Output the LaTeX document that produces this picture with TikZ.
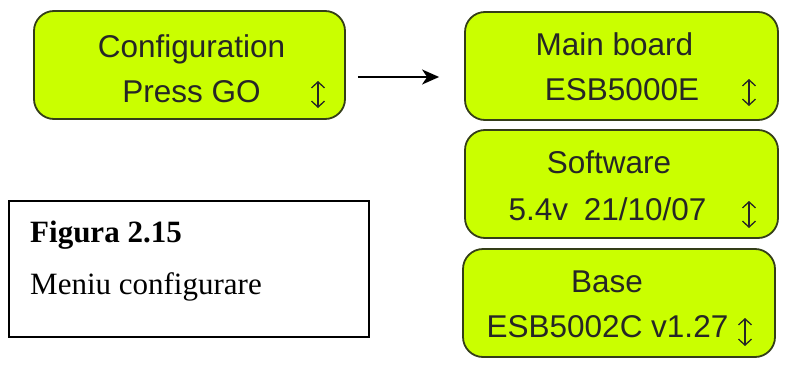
\documentclass[tikz,border=0pt]{standalone}
\usepackage{fontspec}
\setmainfont{Liberation Serif}
\newfontfamily\arialfont{Liberation Sans}
\usetikzlibrary{arrows.meta}
\definecolor{lcdgreen}{RGB}{202,255,0}
\definecolor{lcdedge}{RGB}{52,62,24}
\begin{document}
\begin{tikzpicture}[x=1pt,y=-1pt,
  gbox/.style={draw=lcdedge, line width=1.8pt, fill=lcdgreen, rounded corners=20pt, inner sep=0pt},
  lcdtext/.style={font=\arialfont\fontsize{31.5}{37}\selectfont, text=black!85, anchor=base, inner sep=0pt},
  updown/.style={draw=black!85, line width=1.3pt, {Straight Barb[length=6pt,width=13pt]}-{Straight Barb[length=6pt,width=13pt]}},
  flow/.style={draw=black, line width=1.6pt, -{Stealth[length=17pt,width=15pt,inset=5pt]}},
  capbox/.style={draw=black, line width=1.4pt, fill=white, inner sep=0pt},
  captext/.style={font=\fontsize{31}{37}\selectfont, anchor=base west, inner sep=0pt}
]
\useasboundingbox (0,0) rectangle (803,383);
% boxes
\node[gbox, minimum width=311pt, minimum height=108pt] (cfg) at (189.5,65) {};
\node[gbox, minimum width=313pt, minimum height=108pt] (mb) at (621.5,66) {};
\node[gbox, minimum width=313pt, minimum height=108pt] (sw) at (621.5,184) {};
\node[gbox, minimum width=312pt, minimum height=108pt] (bs) at (619,303) {};
% texts
\node[lcdtext] (t1) at (191.5,57) {Configuration};
\node[lcdtext] (t2) at (191.5,102) {Press GO};
\node[lcdtext] (t3) at (614.5,55) {Main board};
\node[lcdtext] (t4) at (622,100) {ESB5000E};
\node[lcdtext] (t5) at (609,173) {Software};
\node[lcdtext] (t6) at (607.5,220) {5.4v\hspace{0.5em}21/10/07};
\node[lcdtext] (t7) at (607,292) {Base};
\node[lcdtext] (t8) at (607.5,337) {ESB5002C v1.27};
% up-down symbols
\coordinate (u1a) at (318,81); \coordinate (u1b) at (318,108);
\coordinate (u2a) at (749,79); \coordinate (u2b) at (749,106);
\coordinate (u3a) at (749,201); \coordinate (u3b) at (749,228);
\coordinate (u4a) at (745,318); \coordinate (u4b) at (745,346);
\draw[updown] (u1a) -- (u1b);
\draw[updown] (u2a) -- (u2b);
\draw[updown] (u3a) -- (u3b);
\draw[updown] (u4a) -- (u4b);
% connector
\draw[flow] ([xshift=12pt,yshift=-12pt]cfg.east) -- ([xshift=-25pt,yshift=-11pt]mb.west);
% caption
\node[capbox, minimum width=360pt, minimum height=136pt] (cap) at (189,269) {};
\node[captext] (c1) at (30,242) {\textbf{Figura 2.15}};
\node[captext] (c2) at (30,294) {Meniu configurare};
\end{tikzpicture}
\end{document}
